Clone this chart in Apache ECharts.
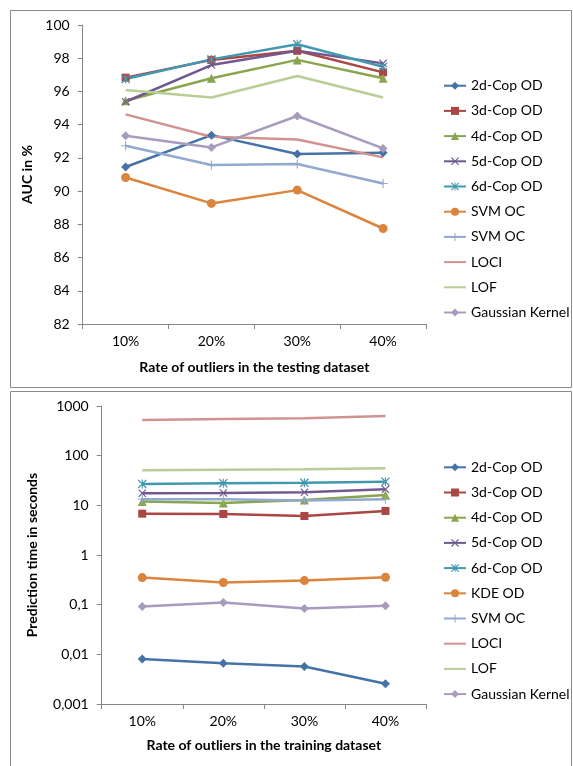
<!DOCTYPE html>
<html><head><meta charset="utf-8">
<script src="https://cdn.jsdelivr.net/npm/echarts@6/dist/echarts.min.js"></script>
<style>html,body{margin:0;padding:0;background:#fff}#c{width:573px;height:766px}</style>
</head><body><div id="c"></div>
<script>
// ---------- data ----------
const categories = ['10%', '20%', '30%', '40%'];

// Top chart: AUC in %
const topNames = ['2d-Cop OD', '3d-Cop OD', '4d-Cop OD', '5d-Cop OD', '6d-Cop OD', 'SVM OC', 'SVM OC', 'LOCI', 'LOF', 'Gaussian Kernel'];
const auc2d   = [91.45, 93.37, 92.23, 92.31];
const auc3d   = [96.83, 97.90, 98.45, 97.15];
const auc4d   = [95.44, 96.79, 97.90, 96.79];
const auc5d   = [95.38, 97.59, 98.45, 97.69];
const auc6d   = [96.75, 97.93, 98.84, 97.49];
const aucSvmA = [90.82, 89.26, 90.06, 87.75];
const aucSvmB = [92.73, 91.57, 91.63, 90.46];
const aucLoci = [94.62, 93.27, 93.11, 92.03];
const aucLof  = [96.08, 95.64, 96.93, 95.64];
const aucGk   = [93.33, 92.63, 94.52, 92.57];
const aucTicks = [82, 84, 86, 88, 90, 92, 94, 96, 98, 100];

// Bottom chart: prediction time in seconds
const bottomNames = ['2d-Cop OD', '3d-Cop OD', '4d-Cop OD', '5d-Cop OD', '6d-Cop OD', 'KDE OD', 'SVM OC', 'LOCI', 'LOF', 'Gaussian Kernel'];
const time2d   = [0.0081, 0.0066, 0.0057, 0.00255];
const time3d   = [6.8, 6.7, 6.1, 7.7];
const time4d   = [11.9, 11.2, 12.8, 16.2];
const time5d   = [17.5, 17.8, 18.3, 21];
const time6d   = [27, 27.9, 28.5, 30];
const timeKde  = [0.351, 0.279, 0.305, 0.357];
const timeSvm  = [13.3, 13.3, 12.5, 13.3];
const timeLoci = [523, 547, 565, 630];
const timeLof  = [50.8, 51.9, 53, 55.6];
const timeGk   = [0.0916, 0.110, 0.0836, 0.0946];
const timeTickLabels = ['0,001', '0,01', '0,1', '1', '10', '100', '1000'];

// ---------- styles ----------
const colors = ['#4572A7', '#AA4643', '#89A54E', '#71588F', '#4198AF', '#DB843D', '#93A9CF', '#D19392', '#B9CD96', '#A99BBD'];
const XPATH = 'path://M0,1L1,0L5,4L9,0L10,1L6,5L10,9L9,10L5,6L1,10L0,9L4,5Z';
const PLUS = 'path://M4.4,0H5.6V4.4H10V5.6H5.6V10H4.4V5.6H0V4.4H4.4Z';
const STAR = 'path://M0,1L1,0L5,4L9,0L10,1L6,5L10,9L9,10L5,6L1,10L0,9L4,5Z M4.4,0H5.6V10H4.4Z';
const symbols = ['diamond', 'rect', 'triangle', XPATH, STAR, 'circle', PLUS, 'none', 'none', 'diamond'];
const sizes = [9, 8, 9, 8, 9, 9, 9, 0, 0, 9];

const topData = [auc2d, auc3d, auc4d, auc5d, auc6d, aucSvmA, aucSvmB, aucLoci, aucLof, aucGk];
const bottomData = [time2d, time3d, time4d, time5d, time6d, timeKde, timeSvm, timeLoci, timeLof, timeGk];

const FONT = 'Lato';
const FS = 14;
const AX = '#868686';

function mkSeries(prefix, names, data, axisIdx) {
  return names.map((n, i) => ({
    name: prefix + i + '|' + n,
    type: 'line',
    xAxisIndex: axisIdx, yAxisIndex: axisIdx,
    data: data[i],
    symbol: symbols[i],
    symbolSize: sizes[i],
    showSymbol: symbols[i] !== 'none',
    lineStyle: { color: colors[i], width: 2.5 },
    itemStyle: { color: colors[i] },
    emphasis: { disabled: true },
    animation: false
  }));
}

const topSeries = mkSeries('T', topNames, topData, 0);
const bottomSeries = mkSeries('B', bottomNames, bottomData, 1);

function legend(series, top) {
  return {
    orient: 'vertical', left: 438, top: top,
    itemWidth: 22, itemHeight: 10, itemGap: 10.2,
    data: series.map((s, i) => symbols[i] === 'none'
      ? { name: s.name, itemStyle: { color: 'rgba(0,0,0,0)', borderWidth: 0, opacity: 0 } }
      : { name: s.name }),
    formatter: n => n.split('|')[1],
    textStyle: { fontFamily: FONT, fontSize: FS, color: '#000', lineHeight: 15 },
    selectedMode: false
  };
}

const xAxisBase = {
  type: 'category', data: categories, boundaryGap: true,
  axisLine: { lineStyle: { color: AX } },
  axisTick: { show: true, inside: false, length: 5, lineStyle: { color: AX } },
  axisLabel: { fontFamily: FONT, fontSize: FS, color: '#000', margin: 10 },
  nameLocation: 'middle',
  nameTextStyle: { fontFamily: FONT, fontSize: FS, fontWeight: 'bold', color: '#000' }
};

const chart = echarts.init(document.getElementById('c'), null, { renderer: 'canvas' });
chart.setOption({
  animation: false,
  backgroundColor: '#fff',
  graphic: [
    { type: 'rect', shape: { x: 10.5, y: 10.5, width: 561, height: 377 }, style: { fill: 'none', stroke: '#8a8a8a', lineWidth: 1 } },
    { type: 'rect', shape: { x: 10.5, y: 391.5, width: 561, height: 380 }, style: { fill: 'none', stroke: '#8a8a8a', lineWidth: 1 } }
  ],
  grid: [
    { left: 82.7, right: 147, top: 25, bottom: 442 },
    { left: 101.7, right: 147, top: 406, bottom: 62 }
  ],
  xAxis: [
    Object.assign({}, xAxisBase, { gridIndex: 0, name: 'Rate of outliers in the testing dataset', nameGap: 36 }),
    Object.assign({}, xAxisBase, { gridIndex: 1, name: 'Rate of outliers in the training dataset', nameGap: 34 })
  ],
  yAxis: [
    {
      type: 'value', gridIndex: 0, min: aucTicks[0], max: aucTicks[aucTicks.length - 1], interval: 2,
      axisLine: { show: true, lineStyle: { color: AX } },
      axisTick: { show: true, inside: false, length: 5, lineStyle: { color: AX } },
      splitLine: { show: false },
      axisLabel: { fontFamily: FONT, fontSize: FS, color: '#000', margin: 13 },
      name: 'AUC in %', nameLocation: 'middle', nameGap: 41, nameRotate: 90,
      nameTextStyle: { fontFamily: FONT, fontSize: FS, fontWeight: 'bold', color: '#000' }
    },
    {
      type: 'log', logBase: 10, gridIndex: 1, min: 0.001, max: 1000,
      axisLine: { show: true, lineStyle: { color: AX } },
      axisTick: { show: true, inside: false, length: 5, lineStyle: { color: AX } },
      splitLine: { show: false },
      axisLabel: {
        fontFamily: FONT, fontSize: FS, color: '#000', margin: 13,
        formatter: v => timeTickLabels[Math.round(Math.log10(v)) + 3]
      },
      name: 'Prediction time in seconds', nameLocation: 'middle', nameGap: 62, nameRotate: 90,
      nameTextStyle: { fontFamily: FONT, fontSize: FS, fontWeight: 'bold', color: '#000' }
    }
  ],
  legend: [legend(topSeries, 73.2), legend(bottomSeries, 454.8)],
  series: topSeries.concat(bottomSeries)
});
</script>
</body></html>
